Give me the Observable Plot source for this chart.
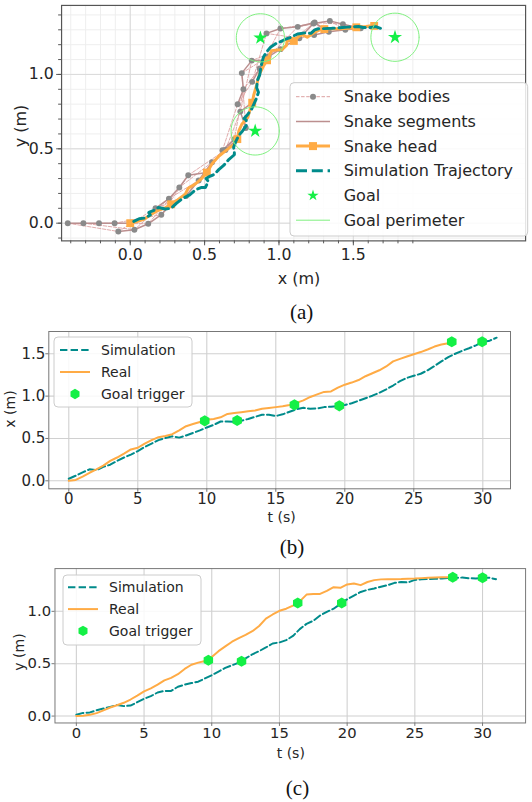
<!DOCTYPE html>
<html><head><meta charset="utf-8">
<script src="https://cdn.jsdelivr.net/npm/d3@7"></script>
<script src="https://cdn.jsdelivr.net/npm/@observablehq/plot@0.6"></script>
<style>
body{margin:0;background:#fff;}
#root{position:relative;width:532px;height:802px;overflow:hidden;background:#fff;}
#root svg{position:absolute;left:0;overflow:visible;}
</style></head><body><div id="root"></div>
<script>
// ---------------- data ----------------
const tReal = [0,0.5,1,1.5,2,2.5,3,3.5,4,4.5,5,5.5,6,6.5,7,7.5,8,8.5,9,9.5,10,10.5,11,11.5,12,12.5,13,13.5,14,14.5,15,15.5,16,16.5,17,17.5,18,18.5,19,19.5,20,20.5,21,21.5,22,22.5,23,23.5,24,24.5,25,25.5,26,26.5,27,27.5,27.8];
const realX = [0.00,0.01,0.05,0.095,0.135,0.18,0.235,0.275,0.32,0.37,0.39,0.44,0.48,0.515,0.53,0.55,0.595,0.645,0.67,0.695,0.72,0.73,0.75,0.79,0.80,0.81,0.82,0.83,0.85,0.86,0.87,0.88,0.895,0.92,0.95,0.99,1.02,1.05,1.055,1.10,1.135,1.16,1.19,1.235,1.27,1.305,1.35,1.41,1.44,1.468,1.495,1.52,1.55,1.585,1.61,1.625,1.64];
const realY = [0,0.003,0.012,0.028,0.055,0.082,0.103,0.127,0.158,0.195,0.235,0.265,0.30,0.34,0.365,0.40,0.45,0.49,0.51,0.525,0.565,0.62,0.665,0.71,0.745,0.775,0.81,0.86,0.93,0.97,1.005,1.025,1.055,1.095,1.16,1.165,1.166,1.195,1.23,1.225,1.257,1.266,1.25,1.28,1.298,1.305,1.307,1.307,1.308,1.311,1.313,1.317,1.32,1.323,1.326,1.326,1.326];
const tSim = [0,0.5,1,1.5,2,2.5,3,3.5,4,4.5,5,5.5,6,6.5,7,7.5,8,8.5,9,9.5,10,10.5,11,11.5,12,12.5,13,13.5,14,14.5,15,15.5,16,16.5,17,17.5,18,18.5,19,19.5,20,20.5,21,21.5,22,22.5,23,23.5,24,24.5,25,25.5,26,26.5,27,27.5,28,28.5,29,29.5,30,30.5,31];
const simX = [0.024,0.06,0.10,0.135,0.125,0.165,0.19,0.235,0.275,0.31,0.35,0.40,0.44,0.48,0.505,0.525,0.51,0.535,0.565,0.595,0.63,0.66,0.70,0.70,0.695,0.71,0.73,0.755,0.78,0.78,0.765,0.785,0.815,0.845,0.862,0.85,0.855,0.87,0.875,0.883,0.895,0.915,0.945,0.975,1.005,1.04,1.08,1.125,1.177,1.215,1.24,1.264,1.305,1.355,1.41,1.46,1.50,1.535,1.565,1.60,1.64,1.655,1.69];
const simY = [0.012,0.03,0.035,0.055,0.072,0.088,0.105,0.095,0.10,0.133,0.165,0.19,0.225,0.24,0.24,0.28,0.30,0.315,0.328,0.36,0.39,0.425,0.46,0.485,0.51,0.55,0.59,0.62,0.655,0.693,0.703,0.725,0.765,0.83,0.88,0.91,0.96,0.995,1.025,1.07,1.115,1.15,1.185,1.205,1.218,1.235,1.25,1.272,1.28,1.276,1.30,1.307,1.308,1.31,1.314,1.318,1.32,1.322,1.316,1.314,1.32,1.32,1.307];

// snapshot times (head markers) and the 4 body links of each snapshot
const headMarkT = [0,3.5,6.5,10,13,16.5,19.5,22.5,25.5,27.8];
const snakeBodies = [
  [[-0.105,0],[-0.21,0],[-0.315,0],[-0.42,0]],
  [[0.209,0.057],[0.121,-0.004],[0.028,-0.044],[-0.08,-0.056]],
  [[0.39,0.322],[0.33,0.24],[0.26,0.165],[0.17,0.10]],
  [[0.64,0.492],[0.55,0.41],[0.46,0.287],[0.375,0.183]],
  [[0.74,0.75],[0.777,0.64],[0.70,0.565],[0.62,0.49]],
  [[0.817,1.093],[0.75,1.009],[0.761,0.90],[0.722,0.80]],
  [[1.01,1.17],[0.93,1.12],[0.87,1.04],[0.82,0.95]],
  [[1.24,1.349],[1.126,1.32],[1.01,1.309],[0.916,1.276]],
  [[1.43,1.338],[1.342,1.36],[1.232,1.342],[1.137,1.243]],
  [[1.55,1.31],[1.446,1.30],[1.335,1.287],[1.236,1.265]]
];
const goalX = [0.84, 0.875, 1.78];
const goalY = [0.62, 1.246, 1.25];
const goalRadius = 0.162;

const trigTB = [9.85,12.2,16.35,19.6,27.75,29.95];
const trigXB = [0.708,0.712,0.897,0.885,1.641,1.641];
const trigTC = [9.75,12.2,16.35,19.6,27.8,30.0];
const trigYC = [0.533,0.524,1.079,1.079,1.326,1.32];

const xMajorA = [0,0.5,1.0,1.5];
const yMajorA = [0,0.5,1.0];
const xMinorA = [-0.4,-0.3,-0.2,-0.1,0,0.1,0.2,0.3,0.4,0.5,0.6,0.7,0.8,0.9,1.0,1.1,1.2,1.3,1.4,1.5,1.6,1.7,1.8,1.9];
const yMinorA = [-0.1,0,0.1,0.2,0.3,0.4,0.5,0.6,0.7,0.8,0.9,1.0,1.1,1.2,1.3,1.4];
const tTicks = [0,5,10,15,20,25,30];
const xTicksB = [0,0.5,1.0,1.5];
const yTicksC = [0,0.5,1.0];

// ---------------- styles ----------------
const TEAL = "#008b8b", ORANGE = "#ffab45", GREEN = "#14f046", RING = "#7ef07e";
const PINK = "#dca0a0", ROSY = "#bc8f8f", GREY = "#8a8a8a", TXT = "#262626";
const FONT = "DejaVu Sans";

// ---------------- tables ----------------
const headRows = tReal.map((t,i)=>({t, x: realX[i], y: realY[i]}));
const simRows = tSim.map((t,i)=>({t, x: simX[i], y: simY[i]}));
const headMarks = headRows.filter(d => headMarkT.includes(d.t));
const bodyRows = [], segRows = [];
snakeBodies.forEach((links, s) => {
  const h = headMarks[s];
  segRows.push({s, x: h.x, y: h.y});
  links.forEach(([x,y], k) => { bodyRows.push({s, k, x, y}); segRows.push({s, x, y}); });
});
const goalRows = goalX.map((x,i)=>({g:i, x, y: goalY[i]}));
const ringRows = [];
goalRows.forEach(g => d3.range(0, 361, 6).forEach(a => ringRows.push({g: g.g,
  x: g.x + goalRadius*Math.cos(a*Math.PI/180), y: g.y + goalRadius*Math.sin(a*Math.PI/180)})));
const realXRows = tReal.map((t,i)=>({t, v: realX[i]}));
const simXRows = tSim.map((t,i)=>({t, v: simX[i]}));
const realYRows = tReal.map((t,i)=>({t, v: realY[i]}));
const simYRows = tSim.map((t,i)=>({t, v: simY[i]}));
const trigBRows = trigTB.map((t,i)=>({t, v: trigXB[i]}));
const trigCRows = trigTC.map((t,i)=>({t, v: trigYC[i]}));

const root = document.getElementById("root");
const baseStyle = (fs) => ({fontFamily: FONT, fontSize: fs+"px", color: TXT, background: "transparent", overflow: "visible"});

// ---------------- panel (a) ----------------
const A = Plot.plot({
  width: 540, height: 272, marginLeft: 62, marginRight: 7, marginTop: 5, marginBottom: 28,
  x: {domain: [-0.4616, 2.658]}, y: {domain: [-0.119, 1.464]},
  style: baseStyle(16),
  marks: [
    Plot.gridX(xMinorA, {stroke: "#eeeeee", strokeOpacity: 1}),
    Plot.gridY(yMinorA, {stroke: "#eeeeee", strokeOpacity: 1}),
    Plot.gridX(xMajorA, {stroke: "#d9d9d9", strokeOpacity: 1}),
    Plot.gridY(yMajorA, {stroke: "#d9d9d9", strokeOpacity: 1}),
    Plot.line(bodyRows, {x: "x", y: "y", z: "k", stroke: PINK, strokeWidth: 0.9, strokeDasharray: "3.5,1.6"}),
    Plot.line(segRows, {x: "x", y: "y", z: "s", stroke: ROSY, strokeWidth: 1.5}),
    Plot.dot(bodyRows, {x: "x", y: "y", r: 3, fill: GREY}),
    Plot.line(headRows, {x: "x", y: "y", stroke: ORANGE, strokeWidth: 3}),
    Plot.dot(headMarks, {x: "x", y: "y", symbol: "square", r: 4.5, fill: ORANGE}),
    Plot.line(simRows, {x: "x", y: "y", stroke: TEAL, strokeWidth: 3, strokeDasharray: "11,4.8"}),
    Plot.dot(goalRows, {x: "x", y: "y", symbol: "star", r: 4.5, fill: GREEN}),
    Plot.line(ringRows, {x: "x", y: "y", z: "g", stroke: RING, strokeWidth: 1}),
    Plot.frame({stroke: "#555", strokeWidth: 1.2}),
    Plot.axisX(xMinorA, {tickSize: 3, tickFormat: () => "", label: null, stroke: "#555"}),
    Plot.axisY(yMinorA, {tickSize: 3, tickFormat: () => "", label: null, stroke: "#555"}),
    Plot.axisX(xMajorA, {tickSize: 5, tickPadding: 3, tickFormat: ".1f", label: null, fontSize: 16, stroke: "#555"}),
    Plot.axisY(yMajorA, {tickSize: 5, tickPadding: 3, tickFormat: ".1f", label: null, fontSize: 16, stroke: "#555"})
  ]
});
A.style.top = "0px";
root.appendChild(A);

// ---------------- panel (b) ----------------
const B = Plot.plot({
  width: 532, height: 200, marginLeft: 48.3, marginRight: 22, marginTop: 11, marginBottom: 31.7,
  x: {domain: [-1.449, 32.007]}, y: {domain: [-0.0945, 1.763]},
  style: baseStyle(15),
  marks: [
    Plot.gridX(tTicks, {stroke: "#d0d0d0", strokeOpacity: 1, strokeWidth: 1.1}),
    Plot.gridY(xTicksB, {stroke: "#d0d0d0", strokeOpacity: 1, strokeWidth: 1.1}),
    Plot.line(simXRows, {x: "t", y: "v", stroke: TEAL, strokeWidth: 2, strokeDasharray: "7.4,3.2"}),
    Plot.line(realXRows, {x: "t", y: "v", stroke: ORANGE, strokeWidth: 2}),
    Plot.dot(trigBRows, {x: "t", y: "v", symbol: "hexagon", r: 4.8, fill: GREEN}),
    Plot.frame({stroke: "#777", strokeWidth: 1}),
    Plot.axisX(tTicks, {tickSize: 3.5, tickPadding: 1.5, label: null, fontSize: 15, stroke: "#777"}),
    Plot.axisY(xTicksB, {tickSize: 3, tickPadding: 0.5, tickFormat: ".1f", label: null, fontSize: 15, stroke: "#777"})
  ]
});
B.style.top = "320px";
root.appendChild(B);

// ---------------- panel (c) ----------------
const C = Plot.plot({
  width: 540, height: 200, marginLeft: 55.3, marginRight: 7, marginTop: 13.3, marginBottom: 30,
  x: {domain: [-1.579, 33.18]}, y: {domain: [-0.0659, 1.408]},
  style: baseStyle(15),
  marks: [
    Plot.gridX(tTicks, {stroke: "#d0d0d0", strokeOpacity: 1, strokeWidth: 1.1}),
    Plot.gridY(yTicksC, {stroke: "#d0d0d0", strokeOpacity: 1, strokeWidth: 1.1}),
    Plot.line(simYRows, {x: "t", y: "v", stroke: TEAL, strokeWidth: 2, strokeDasharray: "7.4,3.2"}),
    Plot.line(realYRows, {x: "t", y: "v", stroke: ORANGE, strokeWidth: 2}),
    Plot.dot(trigCRows, {x: "t", y: "v", symbol: "hexagon", r: 4.8, fill: GREEN}),
    Plot.frame({stroke: "#777", strokeWidth: 1}),
    Plot.axisX(tTicks, {tickSize: 3.5, tickPadding: 1.5, label: null, fontSize: 15, stroke: "#777"}),
    Plot.axisY(yTicksC, {tickSize: 3, tickPadding: 1, tickFormat: ".1f", label: null, fontSize: 15, stroke: "#777"})
  ]
});
C.style.top = "555px";
root.appendChild(C);

// ---------------- overlay: legends, axis labels, captions ----------------
const ov = d3.select(root).append("svg").attr("width", 532).attr("height", 802)
  .style("top", "0px").style("font-family", FONT).style("fill", TXT);

function hexPath(cx, cy, R) {
  const pts = d3.range(6).map(i => { const a = Math.PI/2 + i*Math.PI/3; return [cx + R*Math.cos(a), cy - R*Math.sin(a)]; });
  return "M" + pts.map(p => p.join(",")).join("L") + "Z";
}
function legend(box, rows, o) {
  const g = ov.append("g");
  g.append("rect").attr("x", box[0]).attr("y", box[1]).attr("width", box[2]).attr("height", box[3])
    .attr("rx", 4).attr("fill", "white").attr("fill-opacity", 0.85).attr("stroke", "#cccccc").attr("stroke-width", 1);
  rows.forEach((r, i) => {
    const cy = o.y0 + i*o.dy, x0 = o.hx0, x1 = o.hx1, xm = (x0 + x1)/2;
    if (r.line) g.append("line").attr("x1", x0).attr("x2", x1).attr("y1", cy).attr("y2", cy)
      .attr("stroke", r.line.stroke).attr("stroke-width", r.line.w).attr("stroke-dasharray", r.line.dash || null);
    if (r.sym === "dot") g.append("circle").attr("cx", xm).attr("cy", cy).attr("r", 3).attr("fill", GREY);
    if (r.sym === "square") g.append("rect").attr("x", xm-4).attr("y", cy-4).attr("width", 8).attr("height", 8).attr("fill", ORANGE);
    if (r.sym === "star") g.append("path").attr("transform", `translate(${xm},${cy})`)
      .attr("d", d3.symbol(d3.symbolStar, 40)()).attr("fill", GREEN);
    if (r.sym === "hex") g.append("path").attr("d", hexPath(xm, cy, 5.2)).attr("fill", GREEN);
    g.append("text").attr("x", o.tx).attr("y", cy).attr("dy", "0.35em").attr("font-size", o.fs).text(r.label);
  });
}
legend([290, 82.7, 237.7, 153.3], [
  {label: "Snake bodies", line: {stroke: PINK, w: 1, dash: "3.5,1.6"}, sym: "dot"},
  {label: "Snake segments", line: {stroke: ROSY, w: 1.5}},
  {label: "Snake head", line: {stroke: ORANGE, w: 3}, sym: "square"},
  {label: "Simulation Trajectory", line: {stroke: TEAL, w: 3, dash: "11,4.8"}},
  {label: "Goal", sym: "star"},
  {label: "Goal perimeter", line: {stroke: RING, w: 1}}
], {y0: 96.7, dy: 24.7, hx0: 296, hx1: 330, tx: 343.7, fs: 16});

const simpleRows = [
  {label: "Simulation", line: {stroke: TEAL, w: 2, dash: "7.4,3.2"}},
  {label: "Real", line: {stroke: ORANGE, w: 2}},
  {label: "Goal trigger", sym: "hex"}
];
legend([54, 337, 138, 70], simpleRows, {y0: 350, dy: 22, hx0: 60, hx1: 90, tx: 101, fs: 14});
legend([63, 575, 138, 70], simpleRows, {y0: 587.3, dy: 21.8, hx0: 68, hx1: 98, tx: 109, fs: 14});

function label(x, y, txt, fs, rot) {
  ov.append("text").attr("transform", `translate(${x},${y})` + (rot ? " rotate(-90)" : ""))
    .attr("text-anchor", "middle").attr("dy", "0.35em").attr("font-size", fs).text(txt);
}
label(299, 278, "x (m)", 16);
label(20, 126, "y (m)", 16, true);
label(281.7, 517, "t (s)", 14);
label(10.5, 409, "x (m)", 14, true);
label(290.8, 753.5, "t (s)", 14);
label(19, 652, "y (m)", 14, true);

function caption(x, y, txt) {
  ov.append("text").attr("x", x).attr("y", y).attr("text-anchor", "middle")
    .attr("font-family", "Liberation Serif").attr("font-size", 21).attr("fill", "#111").text(txt);
}
caption(301.7, 318.7, "(a)");
caption(292, 553.5, "(b)");
caption(297.5, 795, "(c)");
</script></body></html>
